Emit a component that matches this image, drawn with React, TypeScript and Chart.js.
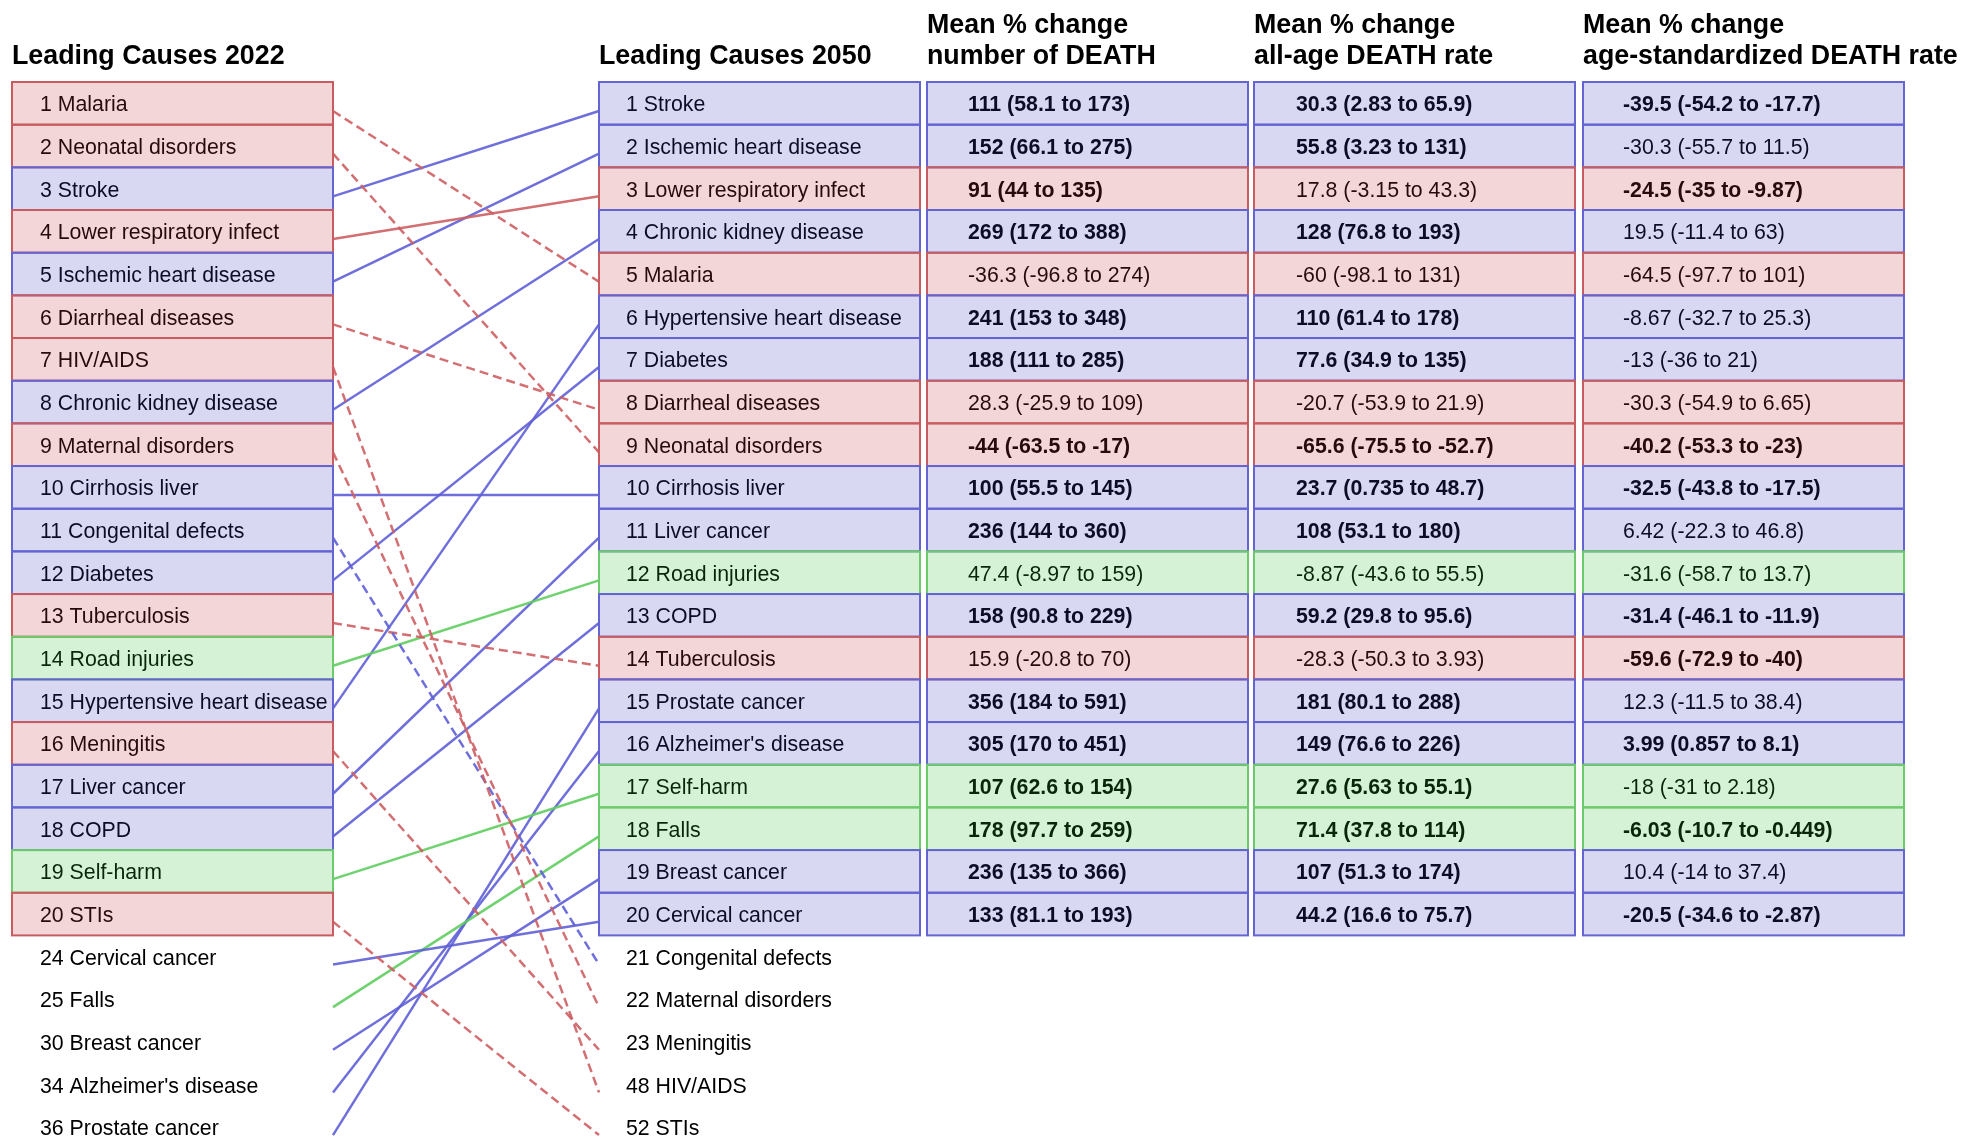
import React, { useEffect, useRef } from "react";
import { Chart, registerables } from "chart.js";

Chart.register(...registerables);

// ---------- DATA ----------
const causes2022 = [
  "Malaria", "Neonatal disorders", "Stroke", "Lower respiratory infect", "Ischemic heart disease",
  "Diarrheal diseases", "HIV/AIDS", "Chronic kidney disease", "Maternal disorders", "Cirrhosis liver",
  "Congenital defects", "Diabetes", "Tuberculosis", "Road injuries", "Hypertensive heart disease",
  "Meningitis", "Liver cancer", "COPD", "Self-harm", "STIs",
  "Cervical cancer", "Falls", "Breast cancer", "Alzheimer's disease", "Prostate cancer",
];
const ranks2022 = [1, 2, 3, 4, 5, 6, 7, 8, 9, 10, 11, 12, 13, 14, 15, 16, 17, 18, 19, 20, 24, 25, 30, 34, 36];

const causes2050 = [
  "Stroke", "Ischemic heart disease", "Lower respiratory infect", "Chronic kidney disease", "Malaria",
  "Hypertensive heart disease", "Diabetes", "Diarrheal diseases", "Neonatal disorders", "Cirrhosis liver",
  "Liver cancer", "Road injuries", "COPD", "Tuberculosis", "Prostate cancer",
  "Alzheimer's disease", "Self-harm", "Falls", "Breast cancer", "Cervical cancer",
  "Congenital defects", "Maternal disorders", "Meningitis", "HIV/AIDS", "STIs",
];
const ranks2050 = [1, 2, 3, 4, 5, 6, 7, 8, 9, 10, 11, 12, 13, 14, 15, 16, 17, 18, 19, 20, 21, 22, 23, 48, 52];

// cause groups
const communicableCauses = [
  "Malaria", "Neonatal disorders", "Lower respiratory infect", "Diarrheal diseases", "HIV/AIDS",
  "Maternal disorders", "Tuberculosis", "Meningitis", "STIs",
];
const injuryCauses = ["Road injuries", "Self-harm", "Falls"];

// [mean, lower, upper] for the top 20 causes of 2050, in the 2050 order
const changeNumberDeath = [
  [111, 58.1, 173], [152, 66.1, 275], [91, 44, 135], [269, 172, 388], [-36.3, -96.8, 274],
  [241, 153, 348], [188, 111, 285], [28.3, -25.9, 109], [-44, -63.5, -17], [100, 55.5, 145],
  [236, 144, 360], [47.4, -8.97, 159], [158, 90.8, 229], [15.9, -20.8, 70], [356, 184, 591],
  [305, 170, 451], [107, 62.6, 154], [178, 97.7, 259], [236, 135, 366], [133, 81.1, 193],
];
const changeAllAgeRate = [
  [30.3, 2.83, 65.9], [55.8, 3.23, 131], [17.8, -3.15, 43.3], [128, 76.8, 193], [-60, -98.1, 131],
  [110, 61.4, 178], [77.6, 34.9, 135], [-20.7, -53.9, 21.9], [-65.6, -75.5, -52.7], [23.7, 0.735, 48.7],
  [108, 53.1, 180], [-8.87, -43.6, 55.5], [59.2, 29.8, 95.6], [-28.3, -50.3, 3.93], [181, 80.1, 288],
  [149, 76.6, 226], [27.6, 5.63, 55.1], [71.4, 37.8, 114], [107, 51.3, 174], [44.2, 16.6, 75.7],
];
const changeAgeStdRate = [
  [-39.5, -54.2, -17.7], [-30.3, -55.7, 11.5], [-24.5, -35, -9.87], [19.5, -11.4, 63], [-64.5, -97.7, 101],
  [-8.67, -32.7, 25.3], [-13, -36, 21], [-30.3, -54.9, 6.65], [-40.2, -53.3, -23], [-32.5, -43.8, -17.5],
  [6.42, -22.3, 46.8], [-31.6, -58.7, 13.7], [-31.4, -46.1, -11.9], [-59.6, -72.9, -40], [12.3, -11.5, 38.4],
  [3.99, 0.857, 8.1], [-18, -31, 2.18], [-6.03, -10.7, -0.449], [10.4, -14, 37.4], [-20.5, -34.6, -2.87],
];

const headerTitles = [
  ["Leading Causes 2022"],
  ["Leading Causes 2050"],
  ["Mean % change", "number of DEATH"],
  ["Mean % change", "all-age DEATH rate"],
  ["Mean % change", "age-standardized DEATH rate"],
];

// ---------- LAYOUT / STYLE ----------
const W = 1963;
const H = 1137;
const TABLE_TOP = 82;
const ROW_H = 42.67;
const BOXED_ROWS = 20;
const colLeft = [12, 599, 927, 1254, 1583];
const colWidth = 321;
const textPad = [28, 27, 41, 42, 40];
const LINE_OFFSET = 0.18; // connectors sit slightly under row centre
const FONT = '"Liberation Sans", Arial, Helvetica, sans-serif';
const CELL_FONT_PX = 21.3;
const HEADER_FONT_PX = 26.8;

const groupFill: Record<string, string> = {
  A: "rgba(190,50,60,0.2)",
  B: "rgba(60,60,190,0.2)",
  C: "rgba(50,190,50,0.2)",
};
const groupBorder: Record<string, string> = {
  A: "#c95c61",
  B: "#6464d2",
  C: "#6cc96c",
};
const groupLine: Record<string, string> = {
  A: "rgba(205,95,100,0.9)",
  B: "rgba(95,95,215,0.9)",
  C: "rgba(95,205,95,0.9)",
};

function groupOf(name: string) {
  if (communicableCauses.includes(name)) return "A";
  if (injuryCauses.includes(name)) return "C";
  return "B";
}

function fmt(t: number[]) {
  return `${t[0]} (${t[1]} to ${t[2]})`;
}
function significant(t: number[]) {
  return (t[1] > 0 && t[2] > 0) || (t[1] < 0 && t[2] < 0);
}

export default function App() {
  const ref = useRef<HTMLCanvasElement | null>(null);

  useEffect(() => {
    const canvas = ref.current;
    if (!canvas) return;

    const datasets = causes2022.map((name, i) => {
      const j = causes2050.indexOf(name);
      const g = groupOf(name);
      const dashed = ranks2050[j] > ranks2022[i];
      return {
        label: name,
        data: [
          { x: colLeft[0] + colWidth, y: i + 0.5 + LINE_OFFSET },
          { x: colLeft[1], y: j + 0.5 + LINE_OFFSET },
        ],
        borderColor: groupLine[g],
        borderWidth: 2.5,
        borderDash: dashed ? [9, 5] : [],
        pointRadius: 0,
        fill: false,
        tension: 0,
      };
    });

    const tablePlugin = {
      id: "tablePlugin",
      afterDatasetsDraw(chart: any) {
        const ctx = chart.ctx as CanvasRenderingContext2D;
        const xs = chart.scales.x;
        const ys = chart.scales.y;
        ctx.save();

        const cell = (col: number, row: number, text: string, g: string | null, bold: boolean) => {
          const x0 = xs.getPixelForValue(colLeft[col]);
          const x1 = xs.getPixelForValue(colLeft[col] + colWidth);
          const yTop = ys.getPixelForValue(row);
          const yBot = ys.getPixelForValue(row + 1);
          const yMid = (yTop + yBot) / 2;
          ctx.font = `${bold ? "bold " : ""}${CELL_FONT_PX}px ${FONT}`;
          ctx.textBaseline = "middle";
          ctx.textAlign = "left";
          ctx.fillStyle = "#000";
          ctx.fillText(text, x0 + textPad[col], yMid + 2);
          if (g) {
            ctx.fillStyle = groupFill[g];
            ctx.fillRect(x0, yTop, x1 - x0, yBot - yTop);
            ctx.strokeStyle = groupBorder[g];
            ctx.lineWidth = 2;
            ctx.setLineDash([]);
            ctx.strokeRect(x0, yTop, x1 - x0, yBot - yTop);
          }
        };

        causes2022.forEach((name, i) => {
          cell(0, i, `${ranks2022[i]} ${name}`, i < BOXED_ROWS ? groupOf(name) : null, false);
        });
        causes2050.forEach((name, j) => {
          const g = j < BOXED_ROWS ? groupOf(name) : null;
          cell(1, j, `${ranks2050[j]} ${name}`, g, false);
        });
        [changeNumberDeath, changeAllAgeRate, changeAgeStdRate].forEach((arr, k) => {
          arr.forEach((t, j) => {
            cell(2 + k, j, fmt(t), groupOf(causes2050[j]), significant(t));
          });
        });

        // headers
        const top = ys.getPixelForValue(0);
        ctx.font = `bold ${HEADER_FONT_PX}px ${FONT}`;
        ctx.fillStyle = "#000";
        ctx.textBaseline = "middle";
        headerTitles.forEach((lines, c) => {
          const x = xs.getPixelForValue(colLeft[c]);
          lines.forEach((ln, li) => {
            const fromBottom = lines.length - 1 - li;
            ctx.fillText(ln, x, top - 25 - fromBottom * 31);
          });
        });
        ctx.restore();
      },
    };

    const chart = new Chart(canvas, {
      type: "line",
      data: { datasets: datasets as any },
      options: {
        responsive: false,
        devicePixelRatio: 1,
        animation: false,
        layout: { padding: 0 },
        plugins: { legend: { display: false }, tooltip: { enabled: false }, title: { display: false } },
        scales: {
          x: { type: "linear", display: false, min: 0, max: W },
          y: {
            type: "linear",
            display: false,
            reverse: true,
            min: -TABLE_TOP / ROW_H,
            max: (H - TABLE_TOP) / ROW_H,
          },
        },
      },
      plugins: [tablePlugin],
    });

    return () => chart.destroy();
  }, []);

  return (
    <canvas
      ref={ref}
      width={W}
      height={H}
      style={{ position: "absolute", left: 0, top: 0, width: W, height: H, background: "#fff" }}
    />
  );
}
